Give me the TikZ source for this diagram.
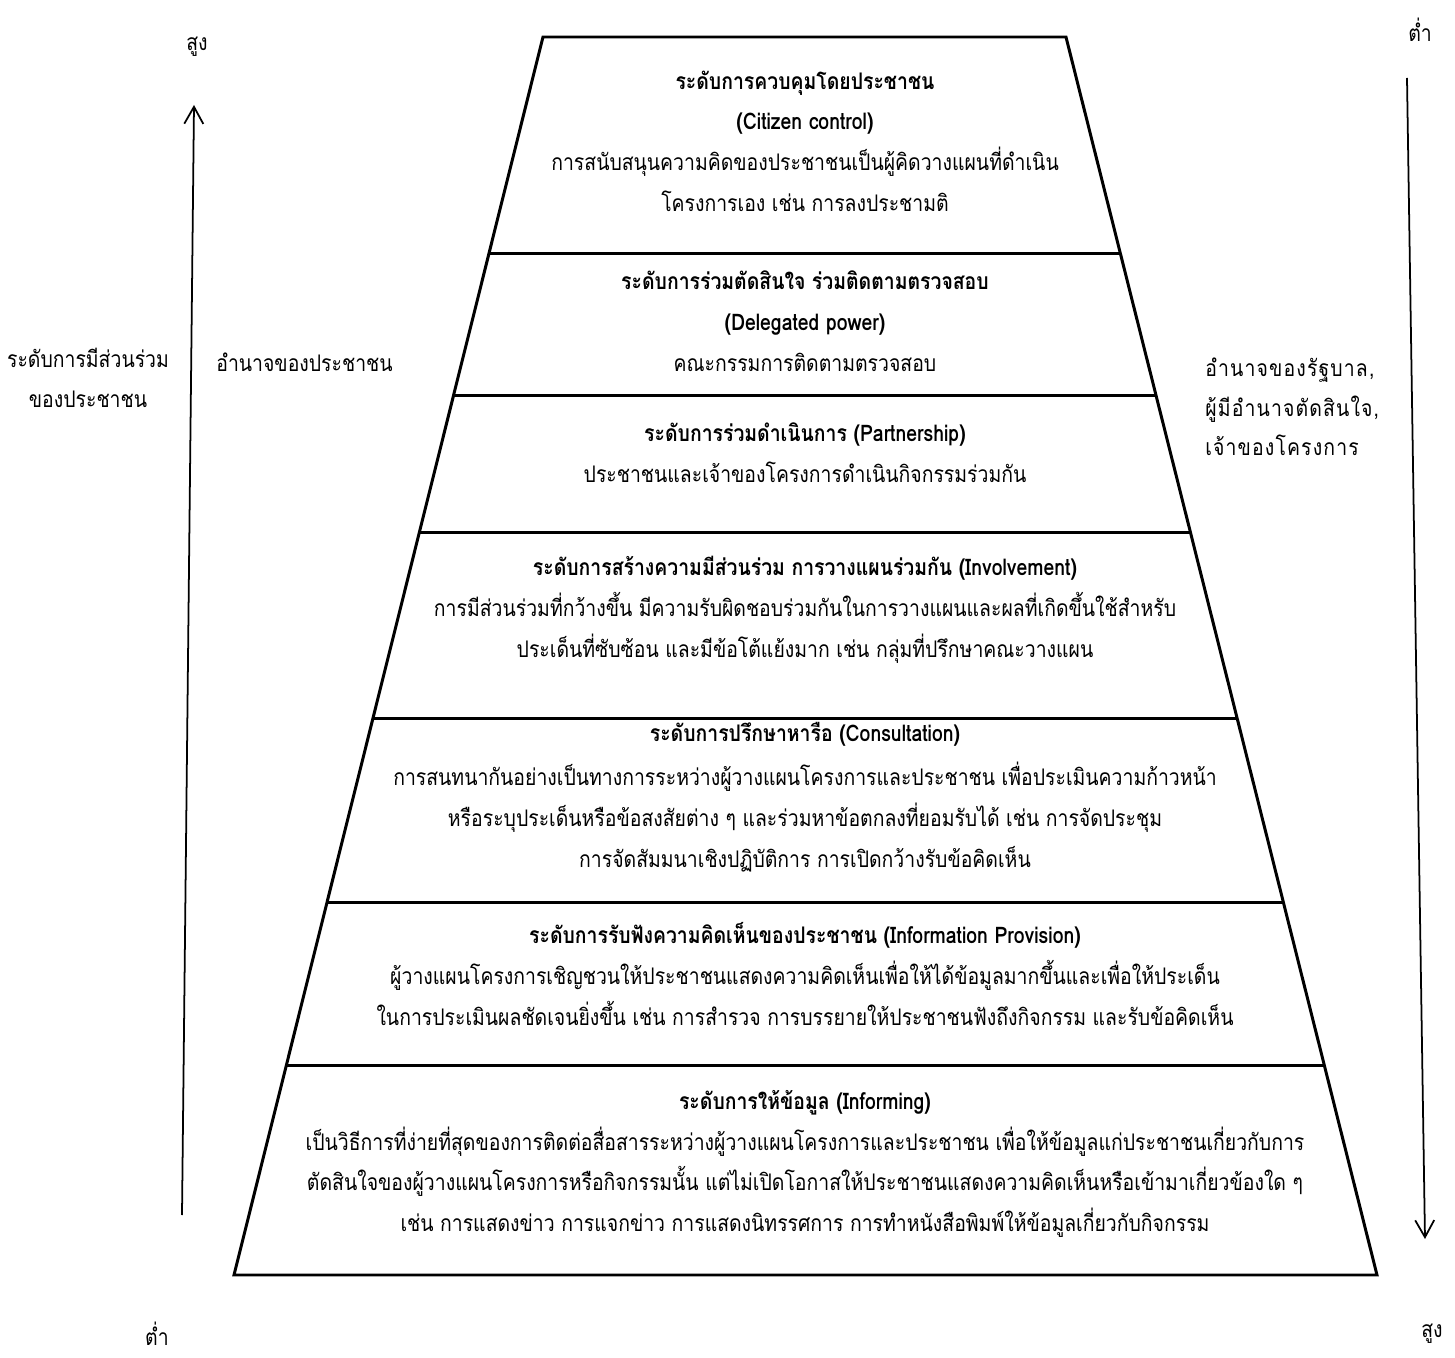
\documentclass[tikz,border=0pt]{standalone}
\usepackage{fontspec}
\setmainfont[Script=Thai,FakeStretch=0.85]{Loma}
\newfontfamily\sidefont[Script=Thai,FakeStretch=0.85,LetterSpace=5]{Loma}
\usetikzlibrary{arrows.meta, positioning, calc}

\begin{document}
\begin{tikzpicture}[x=0.02cm, y=-0.02cm,
    level/.style={align=center, inner sep=0pt, font=\fontsize{13}{23.2}\selectfont},
    side/.style={inner sep=0pt, font=\fontsize{13}{22.5}\selectfont},
    edge/.style={draw, line width=1.7pt, line join=miter},
    axis/.style={draw, line width=1pt, -{Straight Barb[length=3.4mm, width=3.8mm]}}
]
    \useasboundingbox (0,0) rectangle (1455,1358);

    % Pyramid outline and level dividers
    \coordinate (tl) at (543,37);
    \coordinate (tr) at (1066,37);
    \coordinate (bl) at (234,1275);
    \coordinate (br) at (1377,1275);
    \draw[edge] (tl) -- (tr) -- (br) -- (bl) -- cycle;
    \foreach \t in {0.1745, 0.2892, 0.4006, 0.5501, 0.6995, 0.8304}
        \draw[edge] ($(tl)!\t!(bl)$) -- ($(tr)!\t!(br)$);

    % Levels
    \node[level] (citizen) at (805,141) {\textbf{ระดับการควบคุมโดยประชาชน}\\\textbf{(Citizen control)}\\การสนับสนุนความคิดของประชาชนเป็นผู้คิดวางแผนที่ดำเนิน\\โครงการเอง เช่น การลงประชามติ};
    \node[level] (delegated) at (805,321) {\textbf{ระดับการร่วมตัดสินใจ ร่วมติดตามตรวจสอบ}\\\textbf{(Delegated power)}\\คณะกรรมการติดตามตรวจสอบ};
    \node[level] (partner) at (805,453) {\textbf{ระดับการร่วมดำเนินการ (Partnership)}\\ประชาชนและเจ้าของโครงการดำเนินกิจกรรมร่วมกัน};
    \node[level] (involve) at (805,610) {\textbf{ระดับการสร้างความมีส่วนร่วม การวางแผนร่วมกัน (Involvement)}\\การมีส่วนร่วมที่กว้างขึ้น มีความรับผิดชอบร่วมกันในการวางแผนและผลที่เกิดขึ้นใช้สำหรับ\\ประเด็นที่ซับซ้อน และมีข้อโต้แย้งมาก เช่น กลุ่มที่ปรึกษาคณะวางแผน};
    \node[level] (consult) at (805,797) {\textbf{ระดับการปรึกษาหารือ (Consultation)}\\[0.08cm]การสนทนากันอย่างเป็นทางการระหว่างผู้วางแผนโครงการและประชาชน เพื่อประเมินความก้าวหน้า\\หรือระบุประเด็นหรือข้อสงสัยต่าง ๆ และร่วมหาข้อตกลงที่ยอมรับได้ เช่น การจัดประชุม\\การจัดสัมมนาเชิงปฏิบัติการ การเปิดกว้างรับข้อคิดเห็น};
    \node[level] (provision) at (805,974) {\textbf{ระดับการรับฟังความคิดเห็นของประชาชน (Information Provision)}\\ผู้วางแผนโครงการเชิญชวนให้ประชาชนแสดงความคิดเห็นเพื่อให้ได้ข้อมูลมากขึ้นและเพื่อให้ประเด็น\\ในการประเมินผลชัดเจนยิ่งขึ้น เช่น การสำรวจ การบรรยายให้ประชาชนฟังถึงกิจกรรม และรับข้อคิดเห็น};
    \node[level] (inform) at (805,1164) {\textbf{ระดับการให้ข้อมูล (Informing)}\\เป็นวิธีการที่ง่ายที่สุดของการติดต่อสื่อสารระหว่างผู้วางแผนโครงการและประชาชน เพื่อให้ข้อมูลแก่ประชาชนเกี่ยวกับการ\\ตัดสินใจของผู้วางแผนโครงการหรือกิจกรรมนั้น แต่ไม่เปิดโอกาสให้ประชาชนแสดงความคิดเห็นหรือเข้ามาเกี่ยวข้องใด ๆ\\เช่น การแสดงข่าว การแจกข่าว การแสดงนิทรรศการ การทำหนังสือพิมพ์ให้ข้อมูลเกี่ยวกับกิจกรรม};

    % Side labels
    \node[side] (highL) at (197,47) {สูง};
    \node[side] (lowL) at (157,1334) {ต่ำ};
    \node[side] (lowR) at (1420,30) {ต่ำ};
    \node[side] (highR) at (1432,1334) {สูง};
    \node[side, align=center] (levelL) at (88,378) {ระดับการมีส่วนร่วม\\ของประชาชน};
    \node[side, anchor=west] (peoplePow) at (216,362) {อำนาจของประชาชน};
    \node[side, anchor=west, align=left, font=\fontsize{13}{22.5}\sidefont] (govPow) at (1205,407) {อำนาจของรัฐบาล,\\ผู้มีอำนาจตัดสินใจ,\\เจ้าของโครงการ};

    % Axes
    \coordinate (upStart) at (182,1215);
    \coordinate (upEnd) at (194,105);
    \coordinate (downStart) at (1407,78);
    \coordinate (downEnd) at (1425,1239);
    \draw[axis] (upStart) -- (upEnd);
    \draw[axis] (downStart) -- (downEnd);
\end{tikzpicture}
\end{document}
